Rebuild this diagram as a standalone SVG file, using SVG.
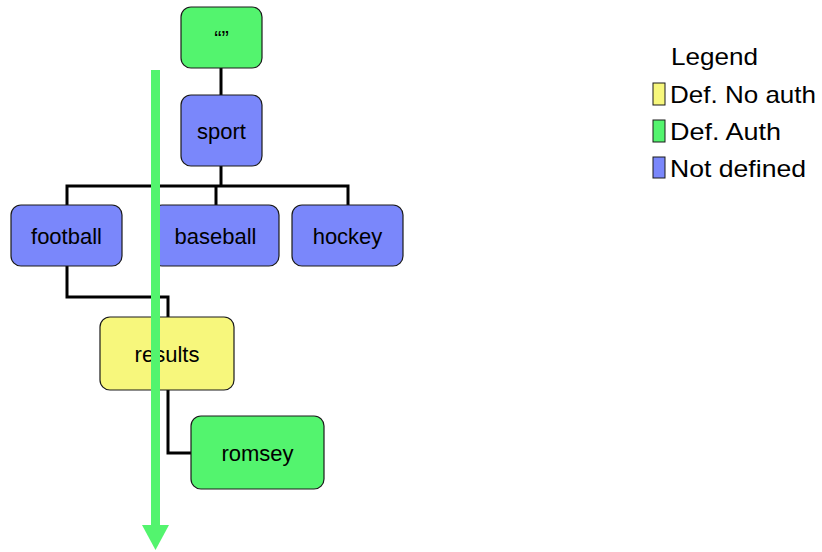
<svg xmlns="http://www.w3.org/2000/svg" width="822" height="552" viewBox="0 0 822 552">
<style>
.n rect{stroke:#1a1a1a;stroke-width:1.2}
.n text{font-family:"Liberation Sans",Arial,sans-serif;font-size:22px;fill:#000;text-anchor:middle}
.g{fill:#53F46E}.b{fill:#7A87FB}.y{fill:#F7F77C}
.c path{fill:none;stroke:#000;stroke-width:3}
.lg text{font-family:"Liberation Sans",Arial,sans-serif;font-size:24px;fill:#000}
.lg rect{stroke:#1a1a1a;stroke-width:1}
</style>
<rect width="822" height="552" fill="#fff"/>
<g class="c" id="connectors">
<path d="M221 68V95"/>
<path d="M221 166V186"/>
<path d="M67 205V186H348V205"/>
<path d="M216 186V205"/>
<path d="M67 266V297H168V317"/>
<path d="M168 390V453H191"/>
</g>
<g class="n" id="root"><rect class="g" x="181" y="7" width="81" height="61" rx="10"/><text x="221.5" y="45.5">“”</text></g>
<g class="n" id="sport"><rect class="b" x="181" y="95" width="81" height="71" rx="10"/><text x="221.5" y="138.5">sport</text></g>
<g class="n" id="football"><rect class="b" x="11" y="205" width="111" height="61" rx="10"/><text x="66.5" y="243.5">football</text></g>
<g class="n" id="baseball"><rect class="b" x="152" y="205" width="127" height="61" rx="10"/><text x="215.5" y="243.5">baseball</text></g>
<g class="n" id="hockey"><rect class="b" x="292" y="205" width="111" height="61" rx="10"/><text x="347.5" y="243.5">hockey</text></g>
<g class="n" id="results"><rect class="y" x="100" y="317" width="134" height="73" rx="10"/><text x="167" y="361.5">results</text></g>
<g class="n" id="romsey"><rect class="g" x="191" y="416" width="133" height="73" rx="10"/><text x="257.5" y="460.5">romsey</text></g>
<g id="arrow">
<rect x="151" y="70" width="9" height="457" fill="#53F46E"/>
<polygon points="142,525 169,525 155.5,550" fill="#53F46E"/>
</g>
<g class="lg" id="legend">
<text x="671" y="65" textLength="87" lengthAdjust="spacingAndGlyphs">Legend</text>
<rect class="y" x="653" y="83" width="12" height="22"/>
<text x="670" y="102.5" textLength="146" lengthAdjust="spacingAndGlyphs">Def. No auth</text>
<rect class="g" x="653" y="120" width="12" height="22"/>
<text x="670" y="139.5" textLength="111" lengthAdjust="spacingAndGlyphs">Def. Auth</text>
<rect class="b" x="653" y="157" width="12" height="21"/>
<text x="670" y="177" textLength="136" lengthAdjust="spacingAndGlyphs">Not defined</text>
</g>
</svg>
